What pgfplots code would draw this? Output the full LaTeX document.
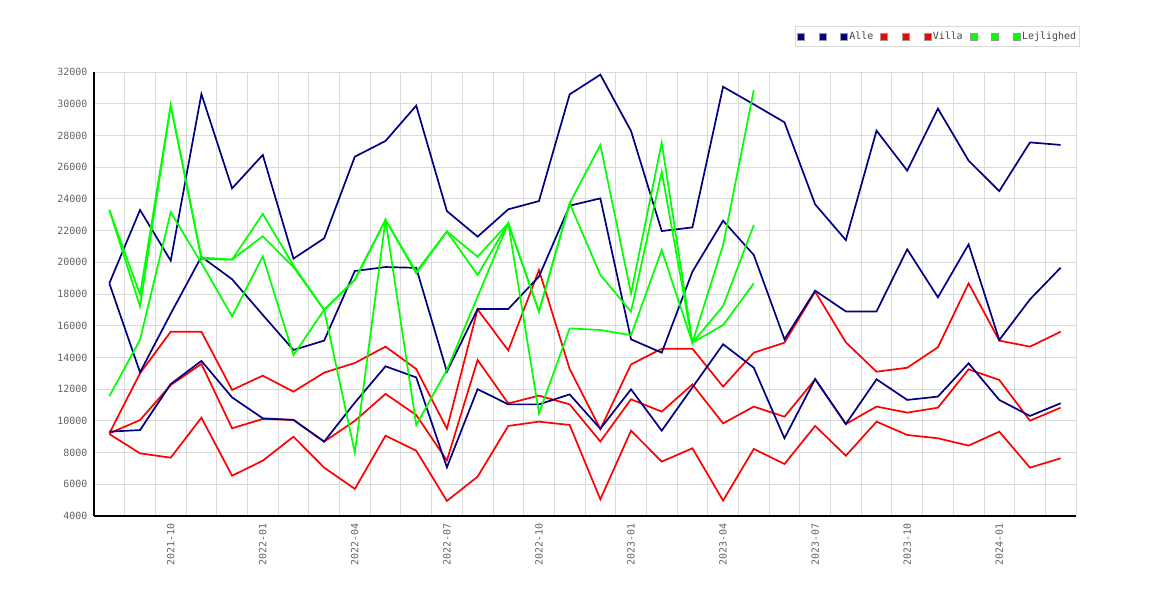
\documentclass[border=0pt]{standalone}
\usepackage{fontspec}
\setmonofont{DejaVu Sans Mono}
\usepackage{pgfplots}
\usepackage{pgfplotstable}
\pgfplotsset{compat=1.18}
\definecolor{cnavy}{RGB}{0,0,128}
\definecolor{cred}{RGB}{255,0,0}
\definecolor{cgreen}{RGB}{0,255,0}
\definecolor{gridc}{RGB}{218,218,218}
\definecolor{labc}{RGB}{100,100,100}

\pgfplotstableread{
i AH AM AL VH VM VL
0 18670 18670 9320 9210 9210 9170
1 23300 13060 9420 13000 10050 7950
2 20100 16760 12320 15620 12260 7680
3 30610 20350 13780 15620 13590 10200
4 24660 18930 11480 11950 9530 6540
5 26770 16680 10160 12850 10120 7490
6 20230 14470 10060 11840 10060 9000
7 21510 15060 8690 13040 8690 7050
8 26660 19450 11150 13650 10000 5710
9 27650 19700 13440 14680 11700 9065
10 29880 19650 12740 13270 10370 8120
11 23230 13100 7070 9500 7500 4950
12 21615 17050 12000 17030 13840 6480
13 23340 17050 11040 14440 11100 9680
14 23860 19100 11040 19510 11590 9950
15 30590 23570 11670 13270 11040 9740
16 31830 24030 9500 9480 8700 5050
17 28280 15140 11990 13560 11360 9380
18 21970 14300 9380 14550 10580 7430
19 22200 19410 12110 14550 12300 8270
20 31070 22620 14830 12160 9840 4970
21 29960 20460 13350 14300 10900 8230
22 28830 15140 8900 14930 10260 7280
23 23650 18210 12640 18150 12620 9680
24 21400 16900 9800 14950 9800 7800
25 28300 16900 12620 13100 10900 9950
26 25780 20820 11320 13350 10520 9110
27 29690 17790 11530 14640 10830 8900
28 26410 21130 13630 18670 13250 8440
29 24490 15100 11320 15060 12580 9320
30 27560 17660 10310 14680 10010 7050
31 27400 19660 11110 15620 10830 7640
}\dataA

\pgfplotstableread{
i G1 G2 G3
0 23300 23300 11550
1 17960 17220 15120
2 29900 29900 23160
3 20300 20200 19950
4 20170 20170 16590
5 23050 21640 20380
6 19800 19700 14150
7 17000 17000 17000
8 8000 18900 18900
9 22670 22670 22670
10 19400 9740 19300
11 21940 13210 21940
12 20350 17830 19200
13 22460 22460 22460
14 16890 10470 16890
15 23720 15830 23720
16 27400 15730 19200
17 18040 15400 16890
18 27540 20770 25710
19 14930 14930 14930
20 21090 16040 17240
21 30860 18670 22350
}\dataG

\pgfplotsset{sqleg/.style={legend image code/.code={\draw[draw=gray!80, fill=#1, line width=0.6bp] (0bp,-3.5bp) rectangle (7bp,3.5bp);}}}

\begin{document}
\begin{tikzpicture}
\useasboundingbox (-94bp,-84bp) rectangle (1076bp,516bp);
\begin{axis}[
  scale only axis, width=982bp, height=444bp,
  xmin=-0.5, xmax=31.5, ymin=4000, ymax=32000,
  axis x line*=bottom, axis y line*=left,
  axis line style={black, line width=1.2bp, -},
  ytick={4000,6000,...,32000},
  xtick={2,5,8,11,14,17,20,23,26,29},
  xticklabels={2021-10,2022-01,2022-04,2022-07,2022-10,2023-01,2023-04,2023-07,2023-10,2024-01},
  minor xtick={0.5,1.5,...,31.5},
  xminorgrids=true, xmajorgrids=false, ymajorgrids=true,
  grid style={gridc, line width=0.8bp},
  minor grid style={gridc, line width=0.8bp},
  major tick length=0pt, minor tick length=0pt,
  tick label style={font=\ttfamily\fontsize{10}{12}\selectfont, text=labc},
  /pgf/number format/1000 sep={},
  /pgf/number format/assume math mode=true,
  scaled y ticks=false,
  x tick label style={rotate=90, anchor=east},
  xticklabel shift=4bp,
  yticklabel shift=3bp,
  legend columns=9,
  legend style={at={(1.004,1.1036)}, anchor=north east, draw=gridc, line width=0.8bp,
    font=\ttfamily\fontsize{10}{12}\selectfont, text=labc!70!black,
    inner xsep=2bp, inner ysep=4bp, nodes={inner sep=1.5bp},
    /tikz/every even column/.append style={column sep=5.5bp}},
]
\addlegendimage{sqleg=cnavy}\addlegendentry{\rule{5.5bp}{0pt}}
\addlegendimage{sqleg=cnavy}\addlegendentry{\rule{5.5bp}{0pt}}
\addlegendimage{sqleg=cnavy}\addlegendentry{Alle}
\addlegendimage{sqleg=cred}\addlegendentry{\rule{5.5bp}{0pt}}
\addlegendimage{sqleg=cred}\addlegendentry{\rule{5.5bp}{0pt}}
\addlegendimage{sqleg=cred}\addlegendentry{Villa}
\addlegendimage{sqleg=cgreen}\addlegendentry{\rule{5.5bp}{0pt}}
\addlegendimage{sqleg=cgreen}\addlegendentry{\rule{5.5bp}{0pt}}
\addlegendimage{sqleg=cgreen}\addlegendentry{Lejlighed}

\addplot[cred, line width=1.7bp, forget plot] table[x=i,y=VH]{\dataA};
\addplot[cred, line width=1.7bp, forget plot] table[x=i,y=VM]{\dataA};
\addplot[cred, line width=1.7bp, forget plot] table[x=i,y=VL]{\dataA};
\addplot[cnavy, line width=1.7bp, forget plot] table[x=i,y=AH]{\dataA};
\addplot[cnavy, line width=1.7bp, forget plot] table[x=i,y=AM]{\dataA};
\addplot[cnavy, line width=1.7bp, forget plot] table[x=i,y=AL]{\dataA};
\addplot[cgreen, line width=1.7bp, forget plot] table[x=i,y=G1]{\dataG};
\addplot[cgreen, line width=1.7bp, forget plot] table[x=i,y=G2]{\dataG};
\addplot[cgreen, line width=1.7bp, forget plot] table[x=i,y=G3]{\dataG};
\end{axis}
\end{tikzpicture}
\end{document}
